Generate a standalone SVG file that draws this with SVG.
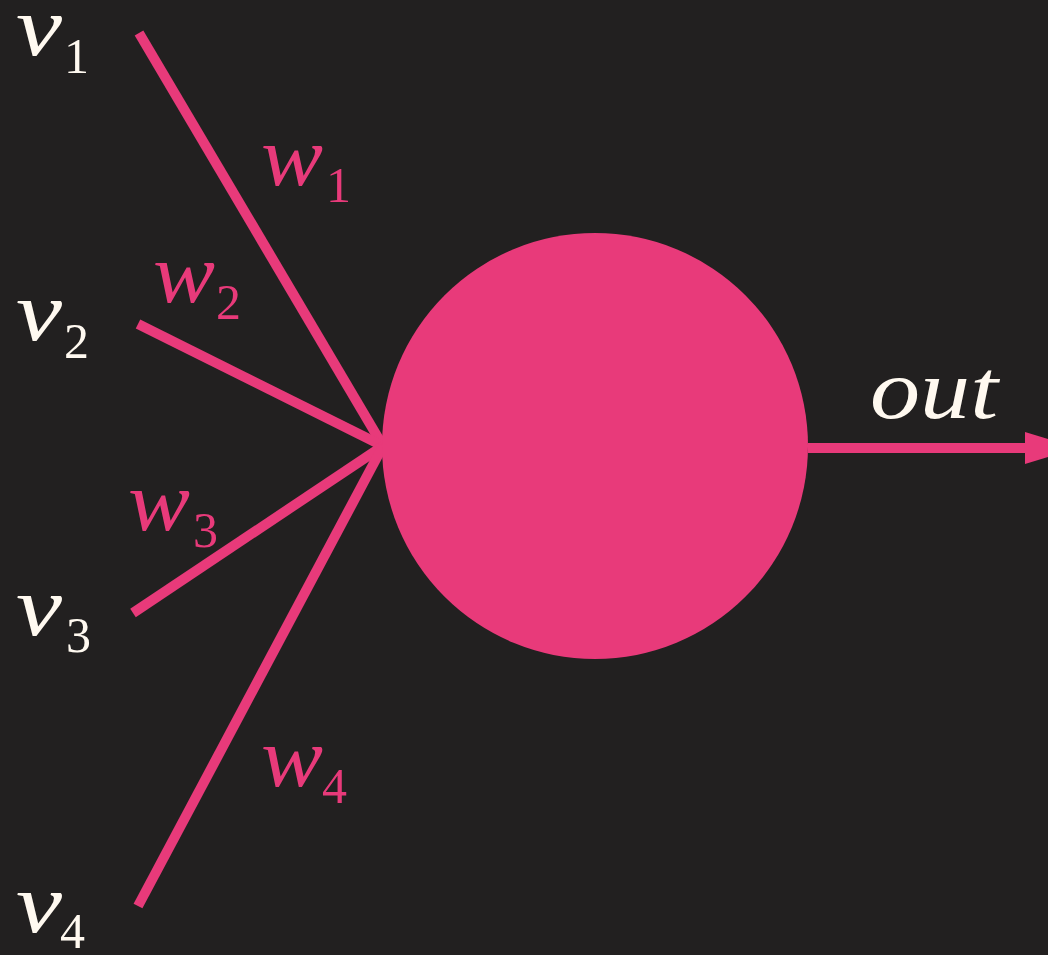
<svg xmlns="http://www.w3.org/2000/svg" width="1048" height="955" viewBox="0 0 1048 955">
<style>
.bg{fill:#222020}
.ln{stroke:#E83A7A;stroke-width:10;fill:none}
.pk{fill:#E83A7A}
.v{fill:#FFF9F0;font-family:"Liberation Serif",serif;font-style:italic;font-size:84px}
.w{fill:#E83A7A;font-family:"Liberation Serif",serif;font-style:italic;font-size:84px}
.s{font-style:normal;font-size:50px}
</style>
<rect class="bg" x="0" y="0" width="1048" height="955"/>
<g id="connectors">
<line class="ln" x1="139" y1="33" x2="383" y2="446"/>
<line class="ln" x1="138" y1="324" x2="383" y2="446"/>
<line class="ln" x1="133" y1="613" x2="383" y2="446"/>
<line class="ln" x1="138" y1="906" x2="383" y2="446"/>
<line class="ln" x1="808" y1="448" x2="1030" y2="448"/>
<polygon class="pk" points="1025,432 1078,448 1025,464"/>
</g>
<g id="neuron"><circle class="pk" cx="595" cy="446" r="213"/></g>
<g id="v1"><text class="v" x="16" y="55" textLength="46" lengthAdjust="spacingAndGlyphs">v</text><text class="v s" x="64" y="73">1</text></g>
<g id="v2"><text class="v" x="16" y="340" textLength="46" lengthAdjust="spacingAndGlyphs">v</text><text class="v s" x="64" y="358">2</text></g>
<g id="v3"><text class="v" x="16" y="635" textLength="46" lengthAdjust="spacingAndGlyphs">v</text><text class="v s" x="66" y="652">3</text></g>
<g id="v4"><text class="v" x="16" y="932" textLength="46" lengthAdjust="spacingAndGlyphs">v</text><text class="v s" x="60" y="948">4</text></g>
<g id="w1"><text class="w" x="261" y="185" textLength="62" lengthAdjust="spacingAndGlyphs">w</text><text class="w s" x="326" y="202">1</text></g>
<g id="w2"><text class="w" x="153" y="302" textLength="62" lengthAdjust="spacingAndGlyphs">w</text><text class="w s" x="216" y="319">2</text></g>
<g id="w3"><text class="w" x="128" y="530" textLength="62" lengthAdjust="spacingAndGlyphs">w</text><text class="w s" x="193" y="547">3</text></g>
<g id="w4"><text class="w" x="261" y="786" textLength="62" lengthAdjust="spacingAndGlyphs">w</text><text class="w s" x="322" y="803">4</text></g>
<g id="out"><text class="v" x="870" y="418" textLength="128" lengthAdjust="spacingAndGlyphs">out</text></g>
</svg>
